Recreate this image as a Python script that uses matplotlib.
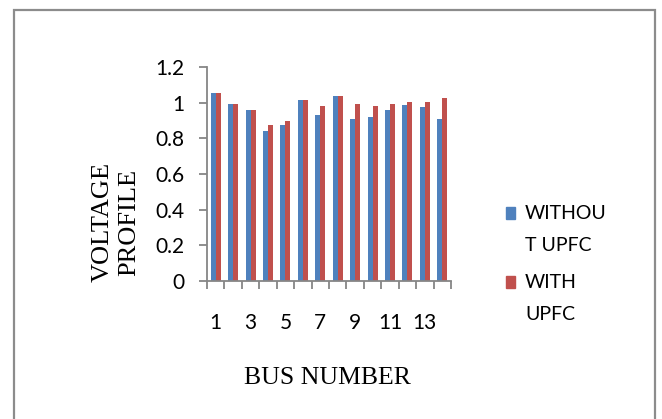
import numpy as np
import matplotlib
matplotlib.use("Agg")
import matplotlib.pyplot as plt
import matplotlib.patches as mpatches

buses = np.arange(1, 15)
without_upfc = [1.056, 0.994, 0.959, 0.842, 0.876, 1.015, 0.932, 1.038,
                0.911, 0.919, 0.959, 0.987, 0.974, 0.911]
with_upfc = [1.056, 0.994, 0.959, 0.876, 0.896, 1.015, 0.981, 1.038,
             0.994, 0.981, 0.994, 1.002, 1.002, 1.028]
series_labels = ["WITHOU\nT UPFC", "WITH\nUPFC"]
series_colors = ["#4F81BD", "#C0504D"]
xtick_labels = ["1", "3", "5", "7", "9", "11", "13"]

W, H = 662, 419
fig = plt.figure(figsize=(W / 100, H / 100), dpi=100)
ax = fig.add_axes([207 / W, 1 - 281 / H, (451 - 207) / W, (281 - 67) / H])

bw = 0.29
ax.bar(buses - bw / 2, without_upfc, bw, color=series_colors[0])
ax.bar(buses + bw / 2, with_upfc, bw, color=series_colors[1])

ax.set_xlim(0.5, 14.5)
ax.set_ylim(0, 1.2)
ax.set_yticks(np.arange(0, 1.21, 0.2))
ax.set_yticklabels(["0", "0.2", "0.4", "0.6", "0.8", "1", "1.2"])

# category boundaries carry the tick marks, labels sit at odd buses
ax.set_xticks(np.arange(0.5, 15, 1))
ax.set_xticklabels([])
ax.set_xticks(buses[::2], minor=True)
ax.set_xticklabels(xtick_labels, minor=True)

axis_col = "#868686"
for s in ["top", "right"]:
    ax.spines[s].set_visible(False)
for s in ["left", "bottom"]:
    ax.spines[s].set_color(axis_col)
    ax.spines[s].set_linewidth(1.3)

ax.tick_params(axis="y", direction="out", length=6, width=1.3, color=axis_col,
               pad=10, labelsize=15)
ax.tick_params(axis="x", which="major", direction="out", length=6, width=1.3,
               color=axis_col)
ax.tick_params(axis="x", which="minor", length=0, pad=23, labelsize=15)
for lab in ax.get_yticklabels() + ax.get_xticklabels(minor=True):
    lab.set_fontfamily("Lato")

fig.text(327 / W, 1 - 378 / H, "BUS NUMBER", family="Liberation Serif",
         fontsize=18.5, ha="center", va="center")
fig.text(116 / W, 1 - 222 / H, "VOLTAGE\nPROFILE", family="Liberation Serif",
         fontsize=19, ha="center", va="center", rotation=90, linespacing=1.25,
         multialignment="center")

# legend
leg_y = [213, 282]
for y, lab, col in zip(leg_y, series_labels, series_colors):
    fig.patches.append(mpatches.Rectangle((506 / W, 1 - (y + 6) / H), 9 / W, 12 / H,
                                          transform=fig.transFigure, color=col))
    fig.text(525 / W, 1 - (y - 8) / H, lab, family="Lato", fontsize=14,
             ha="left", va="top", linespacing=2.1)

# outer chart border
fig.patches.append(mpatches.Rectangle((13.5 / W, -0.1), (655 - 13.5) / W, 1.1 - 10 / H,
                                      transform=fig.transFigure, fill=False,
                                      edgecolor="#8c8c8c", linewidth=1.6))

fig.savefig("out.png", dpi=100)
